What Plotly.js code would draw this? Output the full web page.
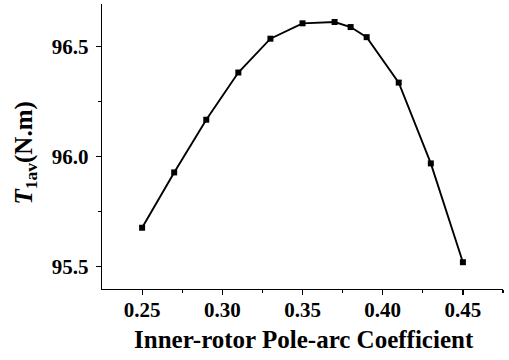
<!DOCTYPE html>
<html><head><meta charset="utf-8">
<script src="https://cdn.plot.ly/plotly-3.0.1.min.js"></script>
<style>html,body{margin:0;padding:0;background:#fff}#chart{width:509px;height:360px}</style>
</head><body><div id="chart"></div>
<script>
const poleArc = [0.25, 0.27, 0.29, 0.31, 0.33, 0.35, 0.37, 0.38, 0.39, 0.41, 0.43, 0.45];
const torque  = [95.675, 95.927, 96.167, 96.382, 96.536, 96.606, 96.612, 96.589, 96.543, 96.336, 95.968, 95.518];
const xTicks = [0.25, 0.30, 0.35, 0.40, 0.45];
const xTickText = ['0.25', '0.30', '0.35', '0.40', '0.45'];
const yTicks = [95.5, 96.0, 96.5];
const yTickText = ['95.5', '96.0', '96.5'];

const fontFam = '"Liberation Serif", "Times New Roman", serif';
const bold = a => a.map(s => '<b>' + s + '</b>');
const trace = {
  x: poleArc, y: torque, type: 'scatter', mode: 'lines+markers',
  line: {color: '#000', width: 1.9},
  marker: {symbol: 'square', size: 6, color: '#000'},
  showlegend: false, hoverinfo: 'none'
};
const layout = {
  width: 509, height: 360,
  margin: {l: 102, r: 6, t: 4, b: 70.5, pad: 0},
  paper_bgcolor: '#fff', plot_bgcolor: '#fff',
  font: {family: fontFam, color: '#000', size: 18},
  xaxis: {
    range: [0.225, 0.475], tickmode: 'array', tickvals: xTicks, ticktext: bold(xTickText),
    ticks: 'outside', ticklen: 5, tickwidth: 1.2, tickcolor: '#000',
    minor: {tickmode: 'array', tickvals: [0.275, 0.325, 0.375, 0.425, 0.475], ticks: 'outside', ticklen: 3, tickwidth: 1.2, tickcolor: '#000'},
    showline: true, linecolor: '#000', linewidth: 1.3, showgrid: false, zeroline: false,
    ticklabelstandoff: -4,
    tickfont: {family: fontFam, size: 21, color: '#000'}
  },
  yaxis: {
    range: [95.396, 96.694], tickmode: 'array', tickvals: yTicks, ticktext: bold(yTickText),
    ticks: 'outside', ticklen: 5, tickwidth: 1.2, tickcolor: '#000',
    minor: {tickmode: 'array', tickvals: [95.75, 96.25], ticks: 'outside', ticklen: 3, tickwidth: 1.2, tickcolor: '#000'},
    showline: true, linecolor: '#000', linewidth: 1.3, showgrid: false, zeroline: false,
    ticklabelstandoff: 3,
    tickfont: {family: fontFam, size: 21, color: '#000'}
  },
  annotations: [
    {text: '<b>Inner-rotor Pole-arc Coefficient</b>', xref: 'paper', yref: 'paper',
     x: 0.5, y: -0.177, xanchor: 'center', yanchor: 'middle', showarrow: false,
     font: {family: fontFam, size: 25, color: '#000'}, xshift: 1},
    {text: '<b><i>T</i><sub>1av</sub>(N.m)</b>', xref: 'paper', yref: 'paper',
     x: 0, y: 0.5, xanchor: 'center', yanchor: 'middle', showarrow: false, textangle: -90,
     xshift: -77, yshift: -7,
     font: {family: fontFam, size: 25, color: '#000'}}
  ]
};
Plotly.newPlot('chart', [trace], layout, {staticPlot: true, displayModeBar: false});
</script></body></html>
